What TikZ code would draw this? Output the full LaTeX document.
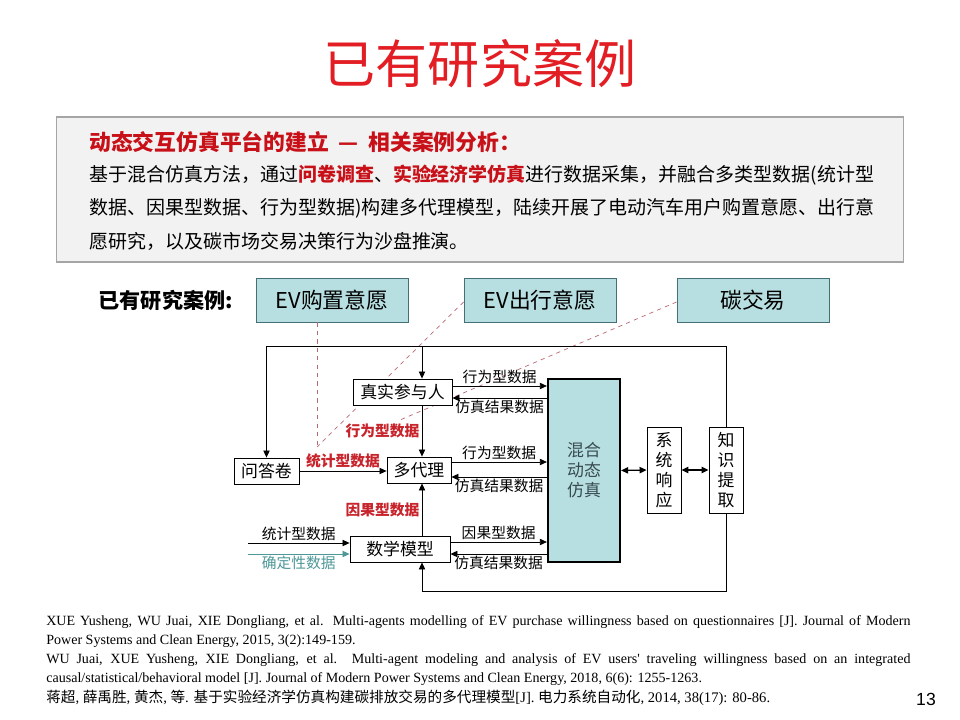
\documentclass[tikz,border=0pt]{standalone}
\usepackage{fontspec}
\setmainfont{Noto Sans CJK SC}
\newfontfamily\reffont{Liberation Serif}
\newfontfamily\numfont{Liberation Sans}
\usetikzlibrary{positioning, arrows.meta, calc}
\definecolor{titlered}{RGB}{226,30,36}
\definecolor{darkred}{RGB}{200,16,24}
\definecolor{labred}{RGB}{200,36,44}
\definecolor{teal1}{RGB}{183,222,224}
\definecolor{tealedge}{RGB}{70,110,118}
\definecolor{tealtxt}{RGB}{78,152,152}
\definecolor{coretxt}{RGB}{55,75,80}
\definecolor{dashred}{RGB}{185,105,115}
\definecolor{panel}{RGB}{242,242,242}
\definecolor{panelrule}{RGB}{165,165,165}
\newcommand\zh[1]{{\normalfont #1}}
\newcommand\hot[1]{{\bfseries\color{darkred}#1}}
\tikzset{
  case/.style    ={draw=tealedge, fill=teal1, line width=0.6pt,
                   minimum width=3.8cm, minimum height=1.1cm,
                   font=\fontsize{15.5}{18}\selectfont},
  blk/.style     ={draw=black, fill=white, line width=0.6pt, inner sep=1pt,
                   minimum height=0.65cm, font=\fontsize{12}{14}\selectfont},
  vbox/.style    ={blk, minimum width=0.85cm, minimum height=2.15cm,
                   align=center, font=\fontsize{12}{14.2}\selectfont},
  core/.style    ={draw=black, fill=teal1, line width=1.6pt, align=center,
                   minimum width=1.8cm, minimum height=4.575cm,
                   text=coretxt, font=\fontsize{12}{14.2}\selectfont},
  arr/.style     ={-{Triangle[length=5pt, width=4.5pt]}, line width=0.6pt},
  dblarr/.style  ={{Triangle[length=5pt, width=4.5pt]}-{Triangle[length=5pt, width=4.5pt]},
                   line width=0.9pt},
  lab/.style     ={font=\fontsize{10.5}{12}\selectfont, inner sep=1pt},
  redlab/.style  ={font=\fontsize{10.5}{12}\selectfont\bfseries, text=labred,
                   inner sep=1.5pt},
  casedash/.style={dashed, dashred, line width=0.5pt},
  panelline/.style={anchor=west, inner sep=0pt, font=\fontsize{13.5}{15}\selectfont},
  refline/.style ={anchor=west, inner sep=0pt, font=\reffont\fontsize{10}{12}\selectfont},
}

\begin{document}
\begin{tikzpicture}[x=0.025cm, y=-0.025cm]
\useasboundingbox (0,0) rectangle (960,720);
\fill[white] (0,0) rectangle (960,720);

% title and summary panel
\node[font=\fontsize{37}{40}\selectfont, text=titlered] (title) at (480,64) {已有研究案例};
\node[draw=panelrule, fill=panel, line width=0.8pt, minimum width=21.15cm,
      minimum height=3.625cm] (panel) at (480,189.5) {};
\node[panelline, font=\fontsize{15.5}{17}\selectfont\bfseries, text=darkred] (head) at (89,142)
  {动态交互仿真平台的建立\hspace{0.45em}—\hspace{0.45em}相关案例分析：};
\node[panelline] (body1) at (89,175)
  {基于混合仿真方法，通过\hot{问卷调查}、\hot{实验经济学仿真}进行数据采集，并融合多类型数据(统计型};
\node[panelline] (body2) at (89,208)
  {数据、因果型数据、行为型数据)构建多代理模型，陆续开展了电动汽车用户购置意愿、出行意};
\node[panelline] (body3) at (89,241)
  {愿研究，以及碳市场交易决策行为沙盘推演。};

% case boxes
\node[font=\fontsize{15}{17}\selectfont\bfseries, anchor=east, inner sep=0pt] (caselab) at (233,300) {已有研究案例:};
\node[case] (ev1)    at (332,300) {EV购置意愿};
\node[case] (ev2)    at (540,300) {EV出行意愿};
\node[case] (carbon) at (753,300) {碳交易};

% frame points
\coordinate (tl) at (266.5,346);
\coordinate (tm) at (422,346);
\coordinate (tr) at (726,346);
\coordinate (br) at (726,591);
\coordinate (bm) at (422,591);
\coordinate (d1) at (317,447);
\coordinate (d2) at (400,420);
\coordinate (in1) at (248,543);
\coordinate (in2) at (248,554);

% links from the cases
\draw[casedash] (ev1.south -| d1) -- (d1);
\draw[casedash] ([yshift=-0.05cm]ev2.west) -- (d1);
\draw[casedash] ([yshift=-0.05cm]carbon.west) -- (d2);

% blocks
\node[blk, minimum width=2.475cm] (real)  at (402.5,392) {真实参与人};
\node[blk, minimum width=1.625cm] (quest) at (266.5,471) {问答卷};
\node[blk, minimum width=1.6cm]   (agent) at (419,470)   {多代理};
\node[blk, minimum width=2.5cm]   (math)  at (400,549)   {数学模型};
\node[core] (hybrid) at (584,470.5) {混合\\动态\\仿真};
\node[vbox] (resp)   at (664,470)   {系\\统\\响\\应};
\node[vbox] (know)   at (726,470)   {知\\识\\提\\取};

% feedback loop
\draw[line width=0.6pt] (tl) -- (tr) -- (know.north);
\draw[arr] (tl) -- (quest.north);
\draw[arr] (tm) -- (tm |- real.north);
\draw[arr] (know.south) -- (br) -- (bm) -- (math.south -| bm);

% data into the models
\draw[arr] (real.south -| tm) -- (agent.north -| tm) node[redlab, midway, left] {行为型数据};
\draw[arr] (math.north -| tm) -- (agent.south -| tm) node[redlab, midway, left] {因果型数据};
\draw[arr] (quest.east) -- (quest.east -| agent.west) node[redlab, midway, above] {统计型数据};
\draw[arr] (in1) -- (in1 -| math.west) node[lab, midway, above] {统计型数据};
\draw[arr, tealtxt] (in2) -- (in2 -| math.west) node[lab, midway, below] {确定性数据};

% exchange with the simulation
\draw[arr] (real.east |- 0,386) -- (hybrid.west |- 0,386) node[lab, midway, above] {行为型数据};
\draw[arr] (hybrid.west |- 0,398) -- (real.east |- 0,398) node[lab, midway, below] {仿真结果数据};
\draw[arr] (agent.east |- 0,462) -- (hybrid.west |- 0,462) node[lab, midway, above] {行为型数据};
\draw[arr] (hybrid.west |- 0,477) -- (agent.east |- 0,477) node[lab, midway, below] {仿真结果数据};
\draw[arr] (math.east |- 0,542) -- (hybrid.west |- 0,542) node[lab, midway, above] {因果型数据};
\draw[arr] (hybrid.west |- 0,554) -- (math.east |- 0,554) node[lab, midway, below] {仿真结果数据};
\draw[dblarr] (hybrid.east) -- (resp.west);
\draw[dblarr] (resp.east) -- (know.west);

% references
\node[refline] (ref1a) at (46,622) {\makebox[21.6cm][s]{XUE Yusheng, WU Juai, XIE Dongliang, et al. Multi-agents modelling of EV purchase willingness based on questionnaires [J]. Journal of Modern}};
\node[refline] (ref1b) at (46,641) {Power Systems and Clean Energy, 2015, 3(2):149-159.};
\node[refline] (ref2a) at (46,660) {\makebox[21.6cm][s]{WU Juai, XUE Yusheng, XIE Dongliang, et al. Multi-agent modeling and analysis of EV users' traveling willingness based on an integrated}};
\node[refline] (ref2b) at (46,679) {causal/statistical/behavioral model [J]. Journal of Modern Power Systems and Clean Energy, 2018, 6(6): 1255-1263.};
\node[refline, font=\reffont\fontsize{10.4}{12}\selectfont] (ref3) at (46,698) {\zh{蒋超}, \zh{薛禹胜}, \zh{黄杰}, \zh{等}. \zh{基于实验经济学仿真构建碳排放交易的多代理模型}[J]. \zh{电力系统自动化}, 2014, 38(17): 80-86.};
\node[font=\numfont\fontsize{12.5}{14}\selectfont] (pagenum) at (926,699) {13};
\end{tikzpicture}
\end{document}
